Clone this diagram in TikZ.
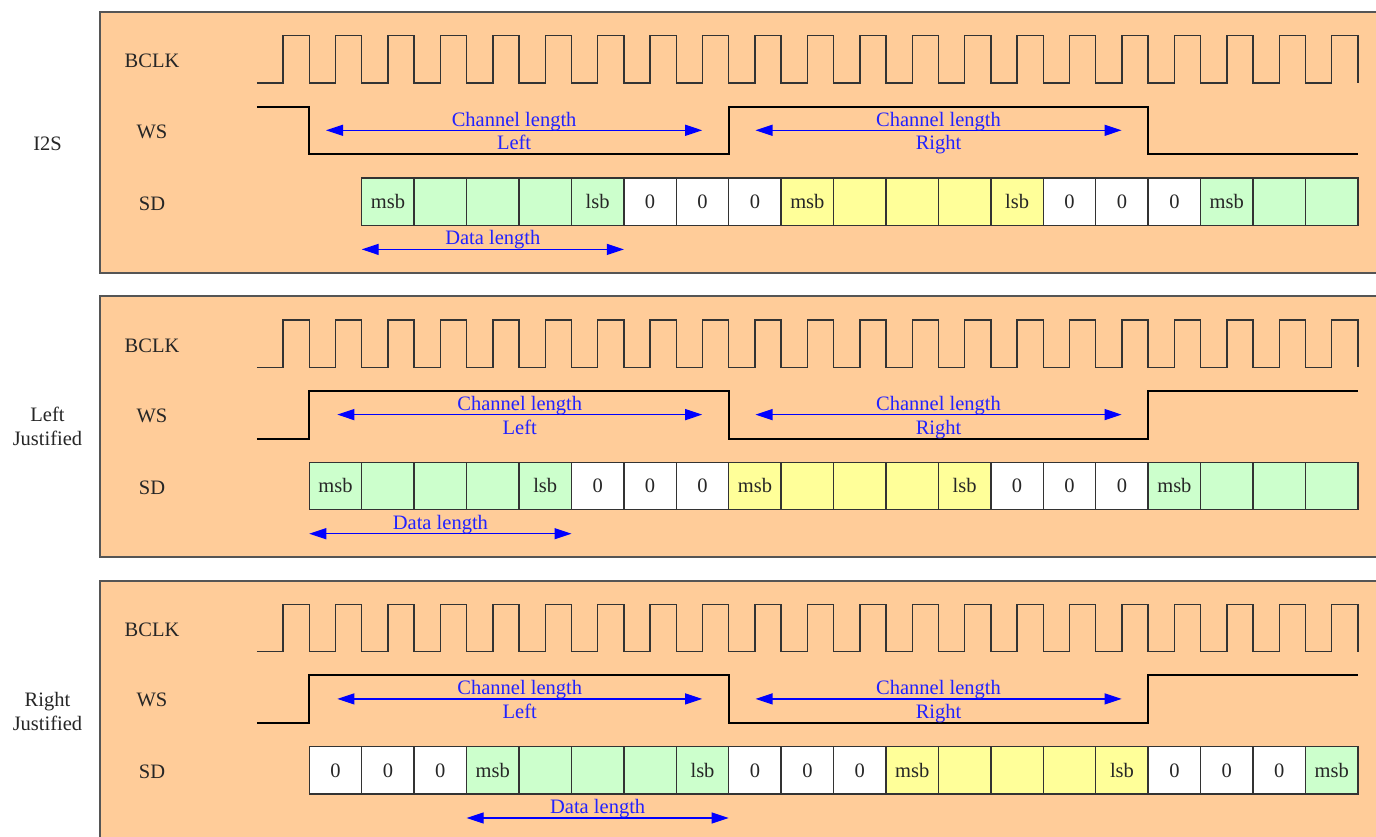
\documentclass[tikz,border=0pt]{standalone}
\usepackage{fontspec}
\setmainfont{Liberation Serif}
\usetikzlibrary{arrows.meta,calc}
\definecolor{panelbg}{HTML}{FFCC99}
\definecolor{cg}{HTML}{CCFFCC}
\definecolor{cy}{HTML}{FFFF99}
\definecolor{cw}{HTML}{FFFFFF}
\definecolor{dimblue}{HTML}{0000FF}
\definecolor{dimtext}{HTML}{2222FF}
\definecolor{edgegray}{HTML}{333333}
\definecolor{framegray}{HTML}{555555}
\begin{document}
\begin{tikzpicture}[x=1pt,y=-1pt,
  panel/.style={fill=panelbg,draw=framegray,line width=2pt},
  clk/.style={draw=edgegray,line width=1.4pt},
  wsline/.style={draw=black,line width=2pt},
  cell/.style={draw=edgegray,line width=1.4pt,minimum width=52.43pt,minimum height=47.3pt,inner sep=0pt,text height=14pt,text depth=0pt,font=\fontsize{20.5}{24}\selectfont,text=black!85},
  lbl/.style={font=\fontsize{20.5}{24}\selectfont,text=black!85,inner sep=0pt,anchor=base},
  dimtxt/.style={font=\fontsize{20.5}{24}\selectfont,text=dimtext,inner sep=0pt,anchor=base},
  dim/.style={draw=dimblue,line width=1.2pt,{Triangle[length=17pt 0 0,width=11pt 0 0]}-{Triangle[length=17pt 0 0,width=11pt 0 0]}}
]
\useasboundingbox (0,0) rectangle (1376,836);
\clip (0,0) rectangle (1376,836);

% panels, clocks, labels
\foreach \off/\nm in {0/pa,284.3/pb,568.6/pc}{
  \draw[panel] (100,{12+\off}) rectangle (1392,{272.5+\off});
  \node[lbl] (\nm-bclk) at (152,{67.7+\off}) {BCLK};
  \node[lbl] (\nm-ws) at (152,{138+\off}) {WS};
  \node[lbl] (\nm-sd) at (152,{210+\off}) {SD};
  \draw[clk] (256.9,{83+\off})
    \foreach \k in {0,...,20}{
      -- ({283.1+52.43*\k},{83+\off}) -- ({283.1+52.43*\k},{35.7+\off})
      -- ({309.3+52.43*\k},{35.7+\off}) -- ({309.3+52.43*\k},{83+\off})
    };
}

% mode labels
\node[lbl] (m-i2s) at (47.5,150.7) {I2S};
\node[lbl] (m-lj1) at (47.5,421.7) {Left};
\node[lbl] (m-lj2) at (47.5,445.9) {Justified};
\node[lbl] (m-rj1) at (47.5,706.3) {Right};
\node[lbl] (m-rj2) at (47.5,730.5) {Justified};

% WS waveforms
\draw[wsline] (256.9,106.7) -- (309.3,106.7) -- (309.3,154.3) -- (728.7,154.3)
  -- (728.7,106.7) -- (1148.2,106.7) -- (1148.2,154.3) -- (1357.9,154.3);
\foreach \off in {284.3,568.6}{
  \draw[wsline] (256.9,{154.3+\off}) -- (309.3,{154.3+\off}) -- (309.3,{106.7+\off}) -- (728.7,{106.7+\off})
    -- (728.7,{154.3+\off}) -- (1148.2,{154.3+\off}) -- (1148.2,{106.7+\off}) -- (1357.9,{106.7+\off});
}

% SD cells
\foreach \c/\t [count=\n from 1] in {cg/msb,cg/{},cg/{},cg/{},cg/lsb,cw/0,cw/0,cw/0,cy/msb,cy/{},cy/{},cy/{},cy/lsb,cw/0,cw/0,cw/0,cg/msb,cg/{},cg/{}}{
  \node[cell,fill=\c] (pa-c\n) at ({335.5+52.43*\n},201.65) {\t};
}
\foreach \c/\t [count=\n from 0] in {cg/msb,cg/{},cg/{},cg/{},cg/lsb,cw/0,cw/0,cw/0,cy/msb,cy/{},cy/{},cy/{},cy/lsb,cw/0,cw/0,cw/0,cg/msb,cg/{},cg/{},cg/{}}{
  \node[cell,fill=\c] (pb-c\n) at ({335.5+52.43*\n},485.95) {\t};
}
\foreach \c/\t [count=\n from 0] in {cw/0,cw/0,cw/0,cg/msb,cg/{},cg/{},cg/{},cg/lsb,cw/0,cw/0,cw/0,cy/msb,cy/{},cy/{},cy/{},cy/lsb,cw/0,cw/0,cw/0,cg/msb}{
  \node[cell,fill=\c] (pc-c\n) at ({335.5+52.43*\n},770.25) {\t};
}

% dimension arrows
\foreach \off/\nm/\ls/\dl/\dr in {0/pa/326/361.7/623.9, 284.3/pb/337.3/309.3/571.5, 568.6/pc/337.3/466.6/728.7}{
  \coordinate (\nm-la) at (\ls,{130.3+\off});
  \coordinate (\nm-lb) at (702.2,{130.3+\off});
  \coordinate (\nm-ra) at (755.5,{130.3+\off});
  \coordinate (\nm-rb) at (1121.6,{130.3+\off});
  \coordinate (\nm-da) at (\dl,{249.4+\off});
  \coordinate (\nm-db) at (\dr,{249.4+\off});
  \draw[dim] (\nm-la) -- (\nm-lb);
  \draw[dim] (\nm-ra) -- (\nm-rb);
  \draw[dim] (\nm-da) -- (\nm-db);
  \node[dimtxt] (\nm-lt1) at ($(\nm-la)!0.5!(\nm-lb)+(0,-4.3)$) {Channel length};
  \node[dimtxt] (\nm-lt2) at ($(\nm-la)!0.5!(\nm-lb)+(0,19.4)$) {Left};
  \node[dimtxt] (\nm-rt1) at ($(\nm-ra)!0.5!(\nm-rb)+(0,-4.3)$) {Channel length};
  \node[dimtxt] (\nm-rt2) at ($(\nm-ra)!0.5!(\nm-rb)+(0,19.4)$) {Right};
  \node[dimtxt] (\nm-dt) at ($(\nm-da)!0.5!(\nm-db)+(0,-4.7)$) {Data length};
}
\end{tikzpicture}
\end{document}
